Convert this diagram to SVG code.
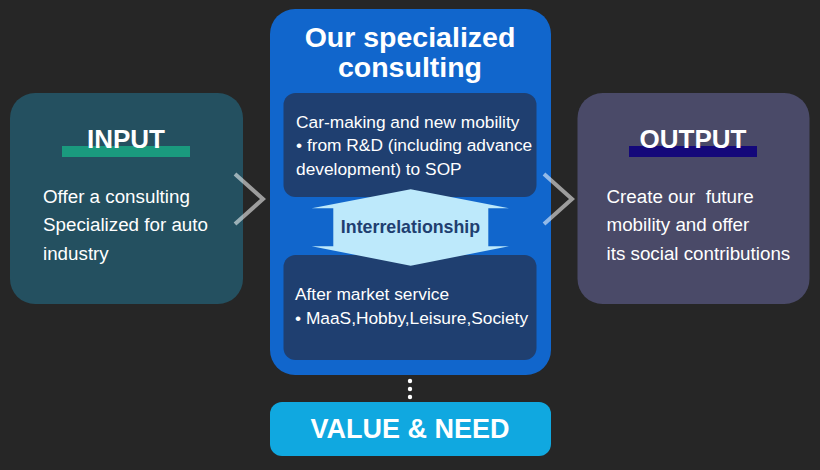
<svg xmlns="http://www.w3.org/2000/svg" width="820" height="470" viewBox="0 0 820 470">
<style>
text{font-family:"Liberation Sans",Arial,sans-serif;fill:#fff;white-space:pre}
.h{font-weight:bold;font-size:26px;text-anchor:middle}
.b{font-size:18.8px}
.s{font-size:17.33px}
.chev{fill:none;stroke:#fff;stroke-opacity:0.55;stroke-width:4}
</style>
<rect width="820" height="470" fill="#262626"/>
<g id="input">
<rect x="10" y="93" width="233" height="211" rx="25" fill="#245060"/>
<rect x="62" y="146" width="128" height="11" fill="#1a9a7e"/>
<text class="h" x="126" y="148">INPUT</text>
<text class="b" x="43" y="202.5">Offer a consulting</text>
<text class="b" x="43" y="231">Specialized for auto</text>
<text class="b" x="43" y="259.5">industry</text>
</g>
<g id="center">
<rect x="270" y="9" width="281" height="366" rx="25" fill="#1166cc"/>
<text x="410" y="47" style="font-weight:bold;font-size:28.5px;text-anchor:middle">Our specialized</text>
<text x="410" y="77" style="font-weight:bold;font-size:28.5px;text-anchor:middle">consulting</text>
</g>
<g id="rnd">
<rect x="283.5" y="93" width="253" height="104" rx="12" fill="#1f3f70"/>
<text class="s" x="296" y="127.5">Car-making and new mobility</text>
<text class="s" x="296" y="151">• from R&amp;D (including advance</text>
<text class="s" x="296" y="175">development) to SOP</text>
</g>
<g id="aftermarket">
<rect x="283.5" y="255" width="253" height="105" rx="12" fill="#1f3f70"/>
<text class="s" x="295" y="299.5">After market service</text>
<text class="s" x="295" y="323.5">• MaaS,Hobby,Leisure,Society</text>
</g>
<g id="interrelationship">
<polygon points="410.7,189.3 509,208.3 488.3,208.3 488.3,246.3 509,246.3 410.7,265.7 311.7,246.3 333.3,246.3 333.3,208.3 311.7,208.3" fill="#bde9fb"/>
<text x="410.5" y="233.3" style="font-weight:bold;font-size:17.8px;text-anchor:middle;fill:#1f3f70">Interrelationship</text>
</g>
<g id="value">
<rect x="270" y="402" width="281" height="54" rx="12" fill="#10a8e0"/>
<text x="410" y="437.5" style="font-weight:bold;font-size:27px;text-anchor:middle">VALUE &amp; NEED</text>
</g>
<g id="output">
<rect x="577.5" y="93" width="232" height="211" rx="25" fill="#4a4a68"/>
<rect x="629" y="146" width="128" height="11" fill="#14087a"/>
<text class="h" x="693" y="148">OUTPUT</text>
<text class="b" x="606.5" y="202.5">Create our  future</text>
<text class="b" x="606.5" y="231">mobility and offer</text>
<text class="b" x="606.5" y="259.5">its social contributions</text>
</g>
<g id="connectors">
<polyline class="chev" points="235,174 263,199 235,224"/>
<polyline class="chev" points="544,174 572,199 544,224"/>
<circle cx="410" cy="381" r="2.2" fill="#fff"/>
<circle cx="410" cy="389" r="2.2" fill="#fff"/>
<circle cx="410" cy="397" r="2.2" fill="#fff"/>
</g>
</svg>
